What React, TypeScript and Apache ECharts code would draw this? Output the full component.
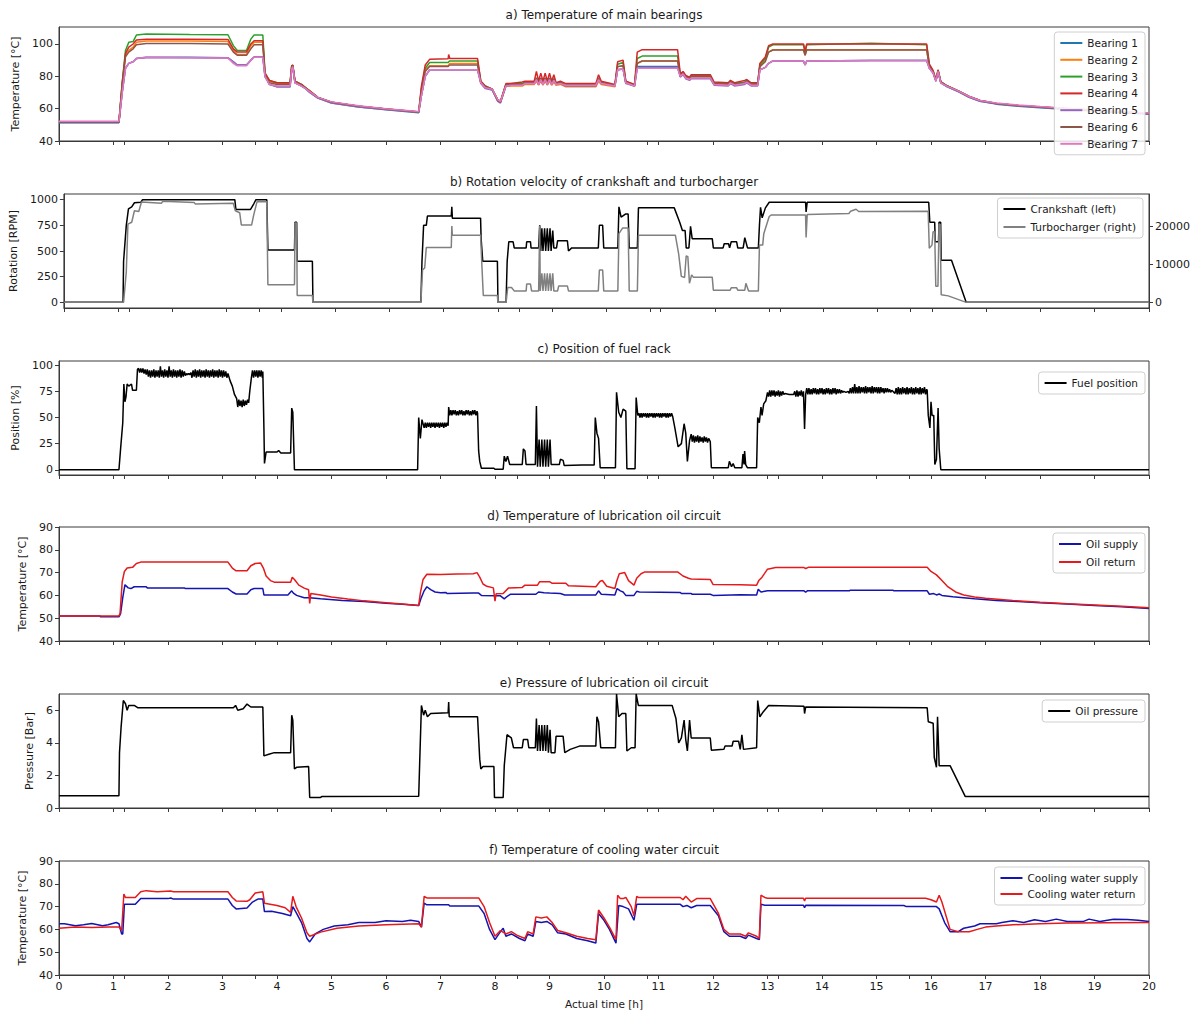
import React, { useEffect, useRef } from "react";
import * as echarts from "echarts";

const FONT = "'DejaVu Sans', 'Liberation Sans', sans-serif";

// ---------- axes ----------
const X_TICKS = [0, 1, 2, 3, 4, 5, 6, 7, 8, 9, 10, 11, 12, 13, 14, 15, 16, 17, 18, 19, 20];
const X_EXTRA_TICKS = [1.2, 3.6, 8.4, 10.8, 13.2, 15.6];
const Y_TICKS_A = [40, 60, 80, 100];
const Y_TICKS_B = [0, 250, 500, 750, 1000];
const Y_TICKS_B_RIGHT = [0, 10000, 20000];
const Y_TICKS_C = [0, 25, 50, 75, 100];
const Y_TICKS_D = [40, 50, 60, 70, 80, 90];
const Y_TICKS_E = [0, 2, 4, 6];
const Y_TICKS_F = [40, 50, 60, 70, 80, 90];

const TITLES = [
  "a) Temperature of main bearings",
  "b) Rotation velocity of crankshaft and turbocharger",
  "c) Position of fuel rack",
  "d) Temperature of lubrication oil circuit",
  "e) Pressure of lubrication oil circuit",
  "f) Temperature of cooling water circuit",
];

// ---------- a) bearings ----------
const BEARING_NAMES = ["Bearing 1", "Bearing 2", "Bearing 3", "Bearing 4", "Bearing 5", "Bearing 6", "Bearing 7"];
const BEARING_T = [
  0, 1.10, 1.16, 1.22, 1.28, 1.36, 1.42, 1.6, 2.4, 3.1,
  3.2, 3.27, 3.44, 3.52, 3.58, 3.74, 3.78, 3.86, 4.0, 4.24,
  4.27, 4.29, 4.33, 4.45, 4.52, 4.6, 4.75, 5.0, 5.5, 6.0,
  6.6, 6.65, 6.72, 6.8, 7.14, 7.15, 7.17, 7.68, 7.74, 7.82,
  7.95, 8.05, 8.1, 8.2, 8.3, 8.5, 8.55, 8.72, 8.76, 8.8,
  8.84, 8.88, 8.92, 8.96, 9.0, 9.04, 9.08, 9.12, 9.2, 9.3,
  9.85, 9.9, 9.95, 10.2, 10.25, 10.35, 10.4, 10.56, 10.61, 10.7,
  11.35, 11.4, 11.45, 11.5, 11.57, 11.6, 11.95, 12.02, 12.28, 12.32,
  12.4, 12.58, 12.62, 12.7, 12.82, 12.86, 12.96, 13.02, 13.1, 13.66,
  13.69, 13.72, 14.9, 15.92, 15.97, 16.04, 16.09, 16.13, 16.18, 16.3,
  16.5, 16.7, 16.9, 17.2, 17.6, 18.0, 18.5, 19.0, 19.5, 20.0,
];
const BEARING_1 = [
  51.3, 51.3, 70, 85, 88, 89, 91, 91.8, 91.8, 91.5,
  89, 87, 87, 90, 92, 92, 80, 75, 73.5, 73.5,
  84, 86, 76, 74, 72.5, 70, 66.5, 63.5, 61, 59.3,
  57.5, 68, 80, 84, 84, 84, 84, 84, 76, 73,
  71.5, 65, 64, 74, 74.5, 74.5, 75.5, 75.5, 78, 75,
  78, 75, 78, 75, 78, 75, 77.5, 75, 75.5, 74.5,
  74.5, 78, 75.5, 74, 84, 84.5, 76, 74, 86, 86,
  86, 80, 81.5, 79, 78, 79, 79, 75, 74.5, 76,
  74.5, 75.5, 76.5, 74.5, 74.5, 84, 85.5, 88, 89.5, 89.5,
  87, 89.5, 89.8, 89.8, 85, 82, 77, 83, 76, 73.5,
  70.5, 67, 64.5, 62.8, 61.5, 60.5, 59.5, 58.5, 57.5, 56.5,
];
const BEARING_2 = [
  51.6, 51.6, 75, 93, 96, 98, 101, 101.8, 101.8, 101.5,
  96, 93.5, 93.5, 99, 101, 101, 81, 77, 75.5, 75.5,
  86, 86.5, 77, 74.5, 73, 71, 67, 64, 61.5, 59.8,
  58, 72, 84, 86.5, 86.5, 87, 88, 88, 76, 73.5,
  72, 65.5, 64.5, 74, 74, 74, 75, 75, 77, 74.5,
  77, 74.5, 77, 74.5, 77, 74.5, 76.5, 74.5, 75, 73.5,
  73.5, 77, 75, 73.5, 86, 86.5, 76.5, 74, 88, 89.5,
  89.5, 80.5, 82, 79.5, 78.5, 79.5, 79.5, 75, 74.5, 76,
  74.5, 75.5, 76.5, 74.5, 74.5, 86, 90, 95, 96.5, 96.5,
  93, 96.5, 96.5, 96.5, 86, 82.5, 77.5, 83, 76.5, 74,
  71, 67.5, 65, 63.2, 62, 61, 60, 59, 58, 57,
];
const BEARING_3 = [
  51.6, 51.6, 76, 96, 101, 101.5, 105.5, 106.2, 105.8, 105.7,
  99, 96, 96, 103, 105.5, 105.5, 82, 77.5, 76, 76,
  86.5, 87, 77, 75, 73, 71, 67, 64, 61.5, 59.8,
  58, 72, 85, 88.5, 88.5, 89, 89.5, 89.5, 77, 74,
  72, 65.5, 64.5, 75, 75.5, 75.5, 76.5, 76.5, 79, 76,
  79, 76, 79, 76, 79, 76, 78.5, 75.5, 76, 75,
  75, 79, 76, 74.5, 87.5, 88.5, 77, 74.5, 91, 92.5,
  92.5, 81, 82.5, 80, 79, 80.5, 80.5, 76, 75.5, 77,
  75.5, 76.5, 77.5, 75.5, 75.5, 87, 91, 98, 99.5, 99.5,
  95, 99.5, 100.5, 99.5, 87, 83, 78, 84, 76.5, 74,
  71, 67.5, 65, 63.2, 62, 61, 60, 59, 58, 57,
];
const BEARING_4 = [
  51.8, 51.8, 76, 94, 98, 100, 102.5, 103, 103, 102.8,
  97, 95, 95, 100, 102, 102, 82, 77.5, 76, 76,
  86.5, 87, 77, 75, 73, 71, 67, 64, 61.5, 59.8,
  58, 74, 87, 90.5, 90.8, 93.5, 91, 91, 77, 74,
  72, 65.5, 64.5, 75.5, 75.5, 76.5, 77, 77, 83, 77,
  82, 77, 82, 77, 82, 77, 81, 76, 77, 75.5,
  75.5, 81, 77, 75, 89, 90, 77, 75, 95, 96.5,
  96.5, 81.5, 83, 80.5, 79.5, 81, 81, 76.5, 76, 77.5,
  76, 77.5, 78, 76, 76, 88, 92, 99, 100, 100,
  95.5, 100, 100, 100, 87.5, 83.5, 78, 84, 76.5, 74,
  71, 67.5, 65, 63.2, 62, 61, 60, 59, 58, 57,
];
const BEARING_5 = [
  51.5, 51.5, 70, 85, 88, 89, 91, 91.5, 91.5, 91.3,
  89, 87, 87, 90, 92, 92, 80, 75, 73.5, 73.5,
  84, 86, 76, 74, 72.5, 70, 66.5, 63.5, 61, 59.5,
  57.8, 68, 80, 84, 84, 84, 84, 84, 75.5, 72.5,
  71.5, 64.5, 63.5, 74, 74.5, 74.5, 75.5, 75.5, 78, 75,
  78, 75, 78, 75, 78, 75, 77.5, 75, 75.5, 74,
  74, 78, 75.5, 74, 84, 84.5, 75.5, 74, 85, 85.5,
  85.5, 79.5, 81, 78.5, 77.5, 78.5, 78.5, 74.5, 74, 75.5,
  74, 75, 76, 74, 74, 84, 85.5, 88, 89.5, 89.5,
  87, 89.5, 89.8, 89.8, 85, 82, 77, 83, 76, 73.5,
  70.5, 67, 64.5, 63, 61.8, 60.8, 59.8, 58.8, 57.8, 56.8,
];
const BEARING_6 = [
  51.8, 51.8, 74, 92, 95, 97, 99.5, 100.3, 100.3, 100,
  95, 93, 93, 97, 99.5, 99.5, 80, 76, 75, 75,
  85.5, 86.5, 76.5, 74.5, 73, 70.5, 67, 64, 61.5, 59.8,
  58, 70, 83, 86, 86, 86.5, 87, 87, 76, 73.5,
  72, 65, 64, 74.5, 75, 75, 76, 76, 79, 75.5,
  79, 75.5, 79, 75.5, 79, 75.5, 78.5, 75.5, 76, 74.5,
  74.5, 78.5, 76, 74.5, 86, 86.5, 76, 74.5, 88, 89.5,
  89.5, 80, 82, 79.5, 78.5, 80, 80, 75.5, 75, 76.5,
  75, 76, 77, 75, 75, 86, 89, 95, 96.3, 96.3,
  93, 96.3, 96.3, 96.3, 86, 82.5, 77.5, 83, 76.5, 74,
  71, 67.5, 65, 63.2, 62, 61, 60, 59, 58, 57,
];
const BEARING_7 = [
  52.2, 52.2, 70, 85, 88, 89, 91, 91.8, 91.5, 91.3,
  88, 86.5, 86.5, 90, 91.8, 91.8, 80, 75, 74, 74,
  84.5, 86, 76, 74, 72.5, 70.5, 67, 64.2, 61.8, 60,
  58.3, 68, 80, 84, 84, 84, 84, 84, 76, 73,
  72, 65.5, 64.5, 74, 74.5, 74.5, 75.5, 75.5, 78, 75,
  78, 75, 78, 75, 78, 75, 77.5, 75, 75.5, 74.5,
  74.5, 78, 75.5, 74, 84, 84.5, 76, 74, 85, 85,
  85, 80, 81.5, 79, 78, 79, 79, 75, 74.5, 76,
  74.5, 75.5, 76.5, 74.5, 74.5, 84, 85.5, 88, 89.5, 89.5,
  87, 89.5, 89.8, 89.8, 85, 82, 77, 83, 76, 73.8,
  71, 67.5, 65, 63.5, 62.3, 61.3, 60.3, 59.3, 58.3, 57.3,
];
const BEARING_VALUES = [BEARING_1, BEARING_2, BEARING_3, BEARING_4, BEARING_5, BEARING_6, BEARING_7];

// ---------- b) rotation ----------
const CRANKSHAFT = [
  [0, 0], [1.09, 0], [1.1, 400], [1.15, 750], [1.19, 910], [1.25, 930], [1.3, 970], [1.42, 975], [1.45, 1000],
  [3.15, 1000], [3.17, 905], [3.44, 905], [3.5, 960], [3.54, 1000], [3.74, 1000], [3.76, 510], [4.25, 510],
  [4.26, 780], [4.29, 780], [4.3, 400], [4.58, 400], [4.59, 0], [6.58, 0], [6.6, 400], [6.63, 750], [6.68, 750],
  [6.7, 840], [7.14, 840], [7.15, 930], [7.16, 820], [7.68, 820], [7.69, 620], [7.72, 400], [7.99, 400], [8.0, 0],
  [8.15, 0], [8.17, 400], [8.2, 590], [8.28, 590], [8.3, 530], [8.52, 530], [8.53, 590], [8.6, 590], [8.61, 530],
  [8.75, 530], [8.77, 750], [8.79, 500], [8.81, 720], [8.83, 500], [8.86, 720], [8.88, 500], [8.91, 720], [8.93, 500],
  [8.96, 720], [8.98, 500], [9.01, 700], [9.03, 530], [9.08, 530], [9.1, 600], [9.28, 600], [9.3, 500], [9.36, 530],
  [9.85, 530], [9.87, 750], [9.93, 750], [9.95, 530], [10.21, 530], [10.23, 930], [10.27, 830], [10.35, 860],
  [10.4, 860], [10.42, 530], [10.57, 530], [10.59, 920], [11.25, 920], [11.35, 780], [11.4, 700], [11.45, 700],
  [11.47, 530], [11.52, 530], [11.55, 740], [11.58, 620], [11.95, 620], [11.97, 530], [12.15, 530], [12.17, 570],
  [12.25, 570], [12.27, 530], [12.3, 590], [12.4, 590], [12.42, 530], [12.52, 530], [12.55, 630], [12.6, 530],
  [12.8, 530], [12.82, 750], [12.84, 926], [12.87, 823], [12.93, 920], [13.0, 975], [13.67, 975], [13.68, 880],
  [13.7, 975], [15.94, 975], [15.96, 780], [16.05, 780], [16.06, 590], [16.12, 590], [16.13, 780], [16.16, 780],
  [16.17, 410], [16.36, 410], [16.63, 0], [20, 0],
];
const TURBOCHARGER = [
  [0, 0], [1.1, 0], [1.15, 8000], [1.18, 20500], [1.25, 21000], [1.3, 24000], [1.38, 23800], [1.43, 26300],
  [1.8, 26000], [1.82, 26500], [2.4, 26200], [2.42, 25800], [3.12, 26000], [3.16, 24000], [3.24, 23500],
  [3.27, 20300], [3.46, 20300], [3.5, 23000], [3.56, 26400], [3.74, 26400], [3.76, 4600], [4.25, 4600],
  [4.26, 20800], [4.29, 20800], [4.3, 1800], [4.58, 1800], [4.59, 0], [6.58, 0], [6.61, 8500], [6.65, 9000],
  [6.68, 14400], [7.14, 14400], [7.15, 20000], [7.16, 17600], [7.68, 17600], [7.7, 11000], [7.73, 1800],
  [7.99, 1800], [8.0, 0], [8.15, 0], [8.18, 3900], [8.25, 3900], [8.3, 3000], [8.52, 3000], [8.53, 4800],
  [8.6, 4800], [8.62, 3000], [8.75, 3000], [8.77, 20000], [8.78, 3000], [8.81, 7600], [8.83, 3000], [8.86, 7600],
  [8.88, 3000], [8.91, 7600], [8.93, 3000], [8.96, 7600], [8.98, 3000], [9.01, 7600], [9.03, 3000], [9.1, 3000],
  [9.12, 4300], [9.28, 4300], [9.3, 3000], [9.85, 3000], [9.87, 8500], [9.93, 8500], [9.95, 3000], [10.21, 3000],
  [10.23, 18000], [10.3, 19500], [10.4, 19500], [10.42, 3000], [10.57, 3000], [10.59, 17600], [11.27, 17600],
  [11.33, 12800], [11.38, 6800], [11.44, 6500], [11.47, 12200], [11.5, 12000], [11.53, 5000], [11.57, 7200],
  [11.6, 6600], [11.95, 6600], [11.97, 3200], [12.28, 3200], [12.3, 3800], [12.4, 3800], [12.42, 3200],
  [12.55, 3200], [12.57, 5000], [12.62, 3000], [12.8, 3000], [12.82, 15000], [12.88, 15000], [12.9, 18000],
  [13.0, 22500], [13.04, 22900], [13.67, 22900], [13.68, 17000], [13.7, 23000], [14.47, 23300], [14.5, 23900],
  [14.6, 24400], [14.65, 23800], [15.93, 23900], [15.95, 14200], [16.0, 15000], [16.02, 18500], [16.05, 18500],
  [16.07, 4200], [16.11, 4200], [16.13, 20500], [16.15, 20500], [16.17, 2000], [16.3, 1700], [16.63, 0], [20, 0],
];

// ---------- c) fuel rack ----------
const FUEL_POSITION = [
  [0, 0], [1.1, 0], [1.13, 20], [1.17, 45], [1.19, 82], [1.21, 65], [1.23, 70], [1.25, 82], [1.28, 80], [1.33, 82],
  [1.35, 76], [1.42, 76], [1.44, 96],
  [1.46, 97], [1.48, 93], [1.5, 97], [1.52, 93], [1.54, 97], [1.56, 92], [1.58, 96], [1.6, 91], [1.62, 96],
  [1.64, 89], [1.66, 95], [1.68, 88], [1.7, 95], [1.72, 89], [1.74, 96], [1.76, 88], [1.78, 95], [1.8, 89],
  [1.82, 95], [1.84, 88], [1.86, 99], [1.88, 89], [1.9, 95], [1.92, 88], [1.94, 96], [1.96, 89], [1.98, 95],
  [2.0, 88], [2.02, 99], [2.04, 89], [2.06, 95], [2.08, 88], [2.1, 96], [2.12, 89], [2.14, 95], [2.16, 88],
  [2.18, 95], [2.2, 89], [2.22, 96], [2.24, 88], [2.26, 95], [2.28, 89], [2.3, 94], [2.32, 90], [2.34, 92],
  [2.36, 91], [2.38, 92], [2.4, 91], [2.42, 93], [2.44, 88], [2.46, 95], [2.48, 89], [2.5, 96], [2.52, 88],
  [2.54, 95], [2.56, 89], [2.58, 96], [2.6, 88], [2.62, 95], [2.64, 89], [2.66, 95], [2.68, 88], [2.7, 96],
  [2.72, 89], [2.74, 95], [2.76, 88], [2.78, 95], [2.8, 89], [2.82, 96], [2.84, 88], [2.86, 95], [2.88, 89],
  [2.9, 95], [2.92, 88], [2.94, 96], [2.96, 89], [2.98, 95], [3.0, 88], [3.02, 95], [3.04, 89], [3.06, 94],
  [3.08, 88], [3.1, 92],
  [3.14, 85], [3.18, 80], [3.22, 72], [3.26, 68], [3.28, 60], [3.3, 67], [3.32, 61], [3.34, 66], [3.36, 60],
  [3.38, 67], [3.4, 61], [3.42, 66], [3.44, 62], [3.46, 67], [3.48, 64], [3.5, 75],
  [3.53, 88], [3.55, 95], [3.57, 88], [3.59, 95], [3.61, 89], [3.63, 95], [3.65, 88], [3.67, 95], [3.69, 89],
  [3.71, 95], [3.73, 88], [3.74, 94],
  [3.76, 40], [3.77, 6], [3.8, 17], [4.0, 17], [4.03, 18.5], [4.07, 16], [4.25, 16],
  [4.27, 59], [4.29, 55], [4.32, 0], [6.58, 0], [6.6, 50], [6.63, 30], [6.66, 48],
  [6.7, 40], [6.72, 45], [6.74, 40], [6.76, 45], [6.78, 41], [6.8, 45], [6.82, 40], [6.84, 45], [6.86, 41],
  [6.88, 45], [6.9, 40], [6.92, 45], [6.94, 41], [6.96, 45], [6.98, 40], [7.0, 45], [7.02, 41], [7.04, 45],
  [7.06, 40], [7.08, 45], [7.1, 41], [7.12, 45], [7.14, 42],
  [7.15, 60], [7.17, 52], [7.19, 57], [7.21, 52], [7.23, 57], [7.25, 53], [7.27, 57], [7.29, 52], [7.31, 56],
  [7.33, 52], [7.35, 57], [7.37, 53], [7.39, 57], [7.41, 52], [7.43, 56], [7.45, 52], [7.47, 57], [7.49, 53],
  [7.51, 57], [7.53, 52], [7.55, 56], [7.57, 52], [7.59, 57], [7.61, 53], [7.63, 57], [7.65, 52], [7.67, 56],
  [7.68, 54],
  [7.7, 18], [7.72, 8], [7.75, 1.5], [7.98, 1.5], [8.0, 0.5], [8.15, 0.5], [8.17, 13], [8.2, 8], [8.23, 13],
  [8.27, 5], [8.5, 5], [8.52, 20], [8.55, 18], [8.57, 5], [8.74, 5], [8.76, 61], [8.78, 3], [8.81, 29], [8.83, 3],
  [8.86, 29], [8.88, 3], [8.91, 29], [8.93, 3], [8.96, 29], [8.98, 3], [9.01, 29], [9.03, 5], [9.18, 5], [9.2, 10],
  [9.25, 9], [9.27, 4], [9.6, 4.5], [9.82, 4.5], [9.84, 50], [9.87, 35], [9.9, 30], [9.93, 2], [10.21, 2],
  [10.23, 74], [10.27, 55], [10.31, 50], [10.35, 58], [10.4, 56], [10.42, 1], [10.57, 1], [10.59, 69],
  [10.62, 52], [10.64, 54], [10.66, 50], [10.68, 54], [10.7, 50], [10.72, 54], [10.74, 51], [10.76, 54],
  [10.78, 50], [10.8, 54], [10.82, 50], [10.84, 54], [10.86, 51], [10.88, 54], [10.9, 50], [10.92, 54],
  [10.94, 50], [10.96, 54], [10.98, 51], [11.0, 54], [11.02, 50], [11.04, 54], [11.06, 50], [11.08, 54],
  [11.1, 51], [11.12, 54], [11.14, 50], [11.16, 54], [11.18, 50], [11.2, 54], [11.22, 51], [11.24, 54],
  [11.26, 51],
  [11.3, 40], [11.36, 22], [11.42, 25], [11.47, 44], [11.5, 35], [11.53, 8], [11.57, 28], [11.6, 34],
  [11.62, 27], [11.64, 33], [11.66, 26], [11.68, 32], [11.7, 27], [11.72, 33], [11.74, 26], [11.76, 32],
  [11.78, 27], [11.8, 31], [11.82, 26], [11.84, 32], [11.86, 27], [11.88, 31], [11.9, 26], [11.92, 30],
  [11.95, 27], [11.97, 2], [12.28, 2], [12.3, 8], [12.34, 3], [12.37, 6], [12.4, 2], [12.53, 2],
  [12.55, 15], [12.57, 5], [12.58, 18], [12.6, 5], [12.63, 2], [12.8, 2], [12.82, 50], [12.85, 45], [12.88, 60],
  [12.9, 52], [12.93, 63], [12.97, 66],
  [13.0, 74], [13.02, 70], [13.04, 76], [13.06, 70], [13.08, 76], [13.1, 71], [13.12, 76], [13.14, 70],
  [13.16, 75], [13.18, 71], [13.2, 76], [13.22, 70], [13.24, 75], [13.26, 71], [13.28, 75], [13.3, 72],
  [13.32, 73], [13.4, 72], [13.48, 72], [13.5, 75], [13.52, 70], [13.54, 76], [13.56, 70], [13.58, 75],
  [13.6, 71], [13.62, 76], [13.64, 70], [13.66, 75], [13.68, 39], [13.7, 72],
  [13.72, 78], [13.74, 72], [13.76, 78], [13.78, 72], [13.8, 77], [13.82, 72], [13.84, 78], [13.86, 73],
  [13.88, 78], [13.9, 72], [13.92, 77], [13.94, 72], [13.96, 78], [13.98, 73], [14.0, 78], [14.02, 72],
  [14.04, 77], [14.06, 72], [14.08, 78], [14.1, 73], [14.12, 78], [14.14, 72], [14.16, 77], [14.18, 72],
  [14.2, 78], [14.22, 73], [14.24, 78], [14.26, 72], [14.28, 77], [14.3, 73], [14.32, 77], [14.34, 73],
  [14.36, 76], [14.38, 74], [14.4, 75], [14.44, 74], [14.48, 75], [14.5, 73], [14.52, 78], [14.54, 73],
  [14.56, 79], [14.58, 73], [14.6, 82], [14.62, 73], [14.64, 79], [14.66, 73], [14.68, 80], [14.7, 73],
  [14.72, 79], [14.74, 74], [14.76, 79], [14.78, 73], [14.8, 80], [14.82, 73], [14.84, 79], [14.86, 74],
  [14.88, 79], [14.9, 73], [14.92, 80], [14.94, 73], [14.96, 79], [14.98, 74], [15.0, 79], [15.02, 73],
  [15.04, 79], [15.06, 73], [15.08, 79], [15.1, 74], [15.12, 78], [15.14, 73], [15.16, 78], [15.18, 74],
  [15.2, 78], [15.22, 74], [15.24, 77], [15.26, 74], [15.28, 76], [15.3, 75], [15.32, 74], [15.34, 73],
  [15.36, 78], [15.38, 72], [15.4, 79], [15.42, 72], [15.44, 78], [15.46, 72], [15.48, 79], [15.5, 73],
  [15.52, 78], [15.54, 72], [15.56, 79], [15.58, 72], [15.6, 78], [15.62, 73], [15.64, 79], [15.66, 72],
  [15.68, 78], [15.7, 72], [15.72, 79], [15.74, 73], [15.76, 78], [15.78, 72], [15.8, 79], [15.82, 72],
  [15.84, 78], [15.86, 73], [15.88, 79], [15.9, 72], [15.92, 77], [15.93, 76],
  [15.95, 52], [15.98, 40], [16.0, 65], [16.02, 52], [16.05, 52], [16.07, 5], [16.1, 10], [16.13, 59],
  [16.15, 20], [16.18, 0], [20, 0],
];

// ---------- d) lubrication oil temperature ----------
const OIL_SUPPLY = [
  [0, 51], [0.75, 51], [0.76, 50.6], [1.1, 50.6], [1.13, 52], [1.17, 59], [1.21, 64.7], [1.27, 63.3], [1.32, 63],
  [1.38, 63.8], [1.6, 63.8], [1.62, 63.3], [2.3, 63.3], [2.32, 63], [3.1, 63], [3.18, 61.5], [3.25, 60.6],
  [3.45, 60.6], [3.52, 62.5], [3.58, 63], [3.74, 63], [3.76, 60.2], [4.2, 60.2], [4.27, 62], [4.3, 61],
  [4.36, 60], [4.5, 59], [4.6, 59], [4.8, 58.5], [5.2, 57.8], [5.6, 57.3], [6.0, 56.6], [6.3, 56.1], [6.6, 55.6],
  [6.64, 58.5], [6.7, 62], [6.75, 63.8], [6.82, 62.5], [6.9, 61.5], [7.0, 61.2], [7.1, 61.3], [7.12, 60.8],
  [7.6, 61], [7.7, 61], [7.75, 60], [8.0, 59.8], [8.1, 59.8], [8.17, 58.5], [8.22, 59.5], [8.28, 60.5],
  [8.75, 60.5], [8.8, 61.5], [8.9, 61.2], [9.0, 61], [9.2, 60.8], [9.28, 60.2], [9.85, 60.2], [9.9, 62],
  [9.95, 60.5], [10.2, 60.2], [10.24, 63], [10.3, 62], [10.35, 61.5], [10.4, 60], [10.55, 60], [10.6, 61.8],
  [10.65, 61.5], [11.4, 61.3], [11.42, 60.8], [11.6, 60.8], [11.62, 60.5], [11.95, 60.5], [12.0, 60],
  [12.5, 60.3], [12.8, 60.2], [12.83, 62.7], [12.88, 61.5], [12.95, 61.8], [13.0, 62], [13.67, 62],
  [13.7, 61.4], [13.73, 62], [14.5, 62], [14.52, 62.3], [15.3, 62.3], [15.32, 62], [15.93, 62], [15.97, 60.5],
  [16.05, 60.8], [16.1, 60.2], [16.15, 60.6], [16.2, 60], [16.4, 59.4], [16.8, 58.5], [17.2, 57.8],
  [17.6, 57.3], [18.0, 56.8], [18.5, 56.2], [19.0, 55.6], [19.5, 55], [20, 54.2],
];
const OIL_RETURN = [
  [0, 51], [1.1, 51], [1.12, 52], [1.16, 66], [1.2, 70.5], [1.25, 72], [1.35, 72.3], [1.42, 74], [1.5, 74.6],
  [3.1, 74.6], [3.18, 72], [3.25, 70.8], [3.45, 70.8], [3.52, 73], [3.6, 74], [3.7, 74.2], [3.75, 72],
  [3.8, 68.5], [3.88, 66.5], [3.95, 65.8], [4.25, 65.8], [4.28, 68], [4.32, 67], [4.4, 64.5], [4.5, 63.2],
  [4.58, 62.5], [4.6, 56.5], [4.62, 60.8], [4.8, 60.2], [5.0, 59.3], [5.3, 58.4], [5.6, 57.6], [6.0, 56.8],
  [6.3, 56.2], [6.6, 55.6], [6.63, 61], [6.68, 67], [6.75, 69.3], [7.0, 69.2], [7.3, 69.4], [7.6, 69.5],
  [7.67, 70], [7.72, 68], [7.78, 65], [7.85, 64], [7.97, 63.3], [8.0, 57.5], [8.02, 60.7], [8.15, 60.8],
  [8.25, 63.3], [8.5, 63.5], [8.55, 64.5], [8.78, 64.5], [8.82, 66], [9.0, 66], [9.05, 65.3], [9.3, 65.3],
  [9.35, 64.2], [9.6, 64], [9.85, 63.8], [9.93, 66.2], [9.97, 66.5], [10.05, 64], [10.2, 63], [10.23, 66],
  [10.28, 69.5], [10.38, 70], [10.45, 66.5], [10.55, 64.5], [10.6, 67.5], [10.68, 69.5], [10.75, 70.3],
  [11.35, 70.3], [11.45, 68.5], [11.55, 67.5], [11.6, 67.2], [11.95, 67], [12.0, 64.8], [12.5, 64.7],
  [12.8, 64.5], [12.84, 66.5], [12.9, 68], [13.0, 71.5], [13.15, 72.2], [13.67, 72.2], [13.7, 71.8],
  [13.75, 72.3], [15.93, 72.3], [16.0, 70.5], [16.1, 69], [16.2, 66.5], [16.3, 64], [16.45, 61.5],
  [16.6, 60.2], [16.8, 59.3], [17.0, 58.7], [17.5, 57.8], [18.0, 57], [18.5, 56.3], [19.0, 55.8],
  [19.5, 55.2], [20, 54.6],
];

// ---------- e) lubrication oil pressure ----------
const OIL_PRESSURE = [
  [0, 0.75], [1.1, 0.75], [1.11, 3.4], [1.14, 5], [1.18, 6.6], [1.22, 6.4], [1.25, 6.0], [1.28, 6.3],
  [1.38, 6.3], [1.45, 6.15], [3.2, 6.15], [3.24, 6.3], [3.28, 6.0], [3.38, 6.1], [3.45, 6.38], [3.52, 6.2],
  [3.74, 6.2], [3.76, 3.2], [3.85, 3.3], [3.95, 3.4], [4.25, 3.4], [4.27, 5.7], [4.29, 5.4], [4.32, 2.4],
  [4.36, 2.5], [4.58, 2.55], [4.6, 0.65], [4.8, 0.65], [4.82, 0.7], [6.6, 0.72], [6.62, 3], [6.65, 6.3],
  [6.69, 5.7], [6.72, 6.0], [6.76, 5.6], [6.82, 5.8], [7.14, 5.85], [7.15, 6.5], [7.16, 5.6], [7.68, 5.6],
  [7.7, 4.3], [7.72, 3.0], [7.74, 2.4], [7.78, 2.55], [7.98, 2.55], [7.99, 0.65], [8.15, 0.65], [8.17, 2.6],
  [8.22, 4.5], [8.3, 4.3], [8.34, 3.7], [8.5, 3.7], [8.52, 4.2], [8.6, 4.2], [8.62, 3.7], [8.74, 3.7],
  [8.76, 5.5], [8.78, 3.5], [8.81, 5.1], [8.83, 3.5], [8.86, 5.1], [8.88, 3.5], [8.91, 5.1], [8.93, 3.5],
  [8.96, 5.1], [8.98, 3.4], [9.01, 4.8], [9.03, 3.4], [9.1, 3.4], [9.12, 4.4], [9.25, 4.4], [9.28, 3.4],
  [9.38, 3.6], [9.55, 3.8], [9.85, 3.8], [9.87, 5.6], [9.9, 5.3], [9.94, 3.7], [10.21, 3.7], [10.23, 7.0],
  [10.27, 5.6], [10.33, 5.8], [10.4, 5.8], [10.42, 3.5], [10.5, 3.7], [10.57, 3.7], [10.59, 7.0], [10.63, 6.3],
  [11.25, 6.3], [11.32, 5.5], [11.37, 4.0], [11.42, 4.3], [11.47, 5.4], [11.5, 4.2], [11.53, 3.5], [11.57, 5.4],
  [11.6, 4.3], [11.95, 4.3], [11.97, 3.55], [12.2, 3.6], [12.22, 3.8], [12.35, 3.8], [12.37, 4.1], [12.47, 4.1],
  [12.5, 3.6], [12.53, 4.5], [12.56, 3.6], [12.8, 3.7], [12.82, 6.6], [12.86, 5.6], [12.92, 5.9], [13.02, 6.3],
  [13.67, 6.25], [13.68, 5.8], [13.7, 6.2], [15.93, 6.15], [15.95, 5.3], [16.04, 5.2], [16.06, 3.1], [16.1, 2.5],
  [16.12, 5.6], [16.15, 2.6], [16.35, 2.6], [16.63, 0.7], [20, 0.7],
];

// ---------- f) cooling water temperature ----------
const CW_SUPPLY = [
  [0, 62.5], [0.1, 62.5], [0.3, 61.6], [0.45, 62], [0.6, 62.6], [0.8, 61.6], [0.9, 62], [1.05, 63], [1.1, 62.5],
  [1.15, 58], [1.17, 58], [1.2, 71], [1.4, 71], [1.5, 73.6], [2.0, 73.5], [2.05, 73.8], [2.1, 73.3], [3.1, 73.3],
  [3.18, 70.5], [3.25, 69], [3.45, 69.4], [3.55, 72], [3.65, 73.3], [3.74, 73.3], [3.77, 67.8], [3.9, 68],
  [4.1, 67], [4.25, 66], [4.29, 70], [4.35, 67.5], [4.45, 63], [4.55, 56], [4.6, 54.5], [4.7, 58], [4.85, 60],
  [5.05, 61.5], [5.3, 62], [5.5, 63], [5.8, 63], [6.0, 63.8], [6.3, 63.5], [6.45, 64], [6.6, 63.5], [6.65, 61],
  [6.7, 71.5], [6.75, 70.8], [7.15, 70.8], [7.17, 70.3], [7.7, 70.3], [7.8, 67], [7.9, 60], [8.0, 55.5],
  [8.1, 59], [8.15, 60.5], [8.2, 57], [8.3, 58], [8.45, 56], [8.55, 55], [8.6, 58], [8.7, 57], [8.75, 63.5],
  [8.85, 63], [8.95, 63.5], [9.05, 62], [9.15, 58.5], [9.3, 58], [9.5, 56], [9.7, 55], [9.85, 54], [9.9, 67],
  [10.0, 64], [10.1, 60], [10.22, 54], [10.27, 70.5], [10.35, 70], [10.45, 69], [10.55, 64], [10.6, 71],
  [10.65, 71], [11.4, 71], [11.45, 70], [11.52, 70.5], [11.6, 69.5], [11.7, 70.5], [11.95, 70.5], [12.1, 66],
  [12.2, 59], [12.3, 57], [12.5, 57], [12.6, 56], [12.65, 57.5], [12.8, 56], [12.85, 55.5], [12.88, 71],
  [12.95, 70.6], [13.66, 70.6], [13.68, 69.5], [13.7, 70.6], [15.5, 70.5], [15.55, 70], [16.1, 70],
  [16.15, 69], [16.25, 63], [16.35, 59], [16.5, 59], [16.6, 60.5], [16.8, 61.5], [16.9, 62.5], [17.2, 62.5],
  [17.3, 63], [17.5, 63.8], [17.7, 63], [17.9, 64.2], [18.1, 63.5], [18.3, 64.5], [18.5, 63.5], [18.8, 63.5],
  [18.9, 64.5], [19.1, 63.5], [19.35, 64.5], [19.6, 64.3], [19.8, 64], [20, 63.5],
];
const CW_RETURN = [
  [0, 60.5], [0.3, 61], [0.6, 60.8], [0.9, 61], [1.1, 61], [1.15, 59.5], [1.19, 75.5], [1.22, 74], [1.4, 74],
  [1.5, 76.5], [1.6, 77], [1.8, 76.5], [2.05, 76.8], [2.1, 76.5], [3.1, 76.5], [3.18, 74], [3.25, 72.5],
  [3.45, 72.3], [3.5, 73], [3.6, 76], [3.74, 76.5], [3.77, 71.5], [4.0, 70.5], [4.15, 69.5], [4.25, 67.5],
  [4.29, 74.5], [4.35, 70], [4.45, 65], [4.55, 58.5], [4.6, 57], [4.8, 58.8], [5.1, 60.5], [5.5, 61.5],
  [6.0, 62], [6.6, 62.5], [6.65, 61], [6.7, 74.5], [6.75, 73.8], [7.7, 73.8], [7.8, 70], [7.9, 63], [8.0, 57],
  [8.1, 59.5], [8.2, 58], [8.3, 59], [8.4, 57.5], [8.55, 56], [8.6, 59], [8.7, 58], [8.75, 65.5], [8.85, 65],
  [8.95, 65.5], [9.05, 63], [9.15, 59.5], [9.3, 58.5], [9.5, 57], [9.7, 56], [9.85, 55.5], [9.9, 68.5],
  [10.0, 65], [10.1, 61], [10.22, 55.5], [10.25, 75], [10.3, 73.5], [10.35, 73.5], [10.4, 74], [10.5, 70],
  [10.55, 66], [10.6, 74.5], [10.63, 74], [11.4, 74], [11.45, 73], [11.5, 74.5], [11.6, 72], [11.7, 73.5],
  [11.95, 73.5], [12.1, 67], [12.2, 60], [12.3, 58], [12.5, 58], [12.6, 57], [12.65, 58.5], [12.8, 57],
  [12.85, 56], [12.88, 75], [12.95, 74], [13.0, 73.7], [13.66, 73.7], [13.68, 72.5], [13.7, 73.7], [15.9, 73.7],
  [16.0, 73], [16.1, 72], [16.15, 75], [16.2, 72], [16.35, 60], [16.5, 59], [16.7, 59], [16.85, 60], [17.0, 61],
  [17.2, 61.5], [17.5, 62], [18.0, 62.5], [18.5, 62.8], [20, 63],
];

// ---------- styling ----------
const TAB10 = ["#1f77b4", "#ff7f0e", "#2ca02c", "#d62728", "#9467bd", "#8c564b", "#e377c2"];
const BLUE = "#1414b0";
const RED = "#e41a1c";
const AXIS_COLOR = "#3a3a3a";
const TEXT_COLOR = "#1a1a1a";

const GRID_LEFT = 59;
const GRID_WIDTH = 1090;
const PANELS = [
  { top: 27, height: 114, titleY: 15 },
  { top: 194, height: 114, titleY: 182 },
  { top: 361, height: 114, titleY: 349 },
  { top: 527, height: 114, titleY: 516 },
  { top: 694, height: 114, titleY: 683 },
  { top: 861, height: 115, titleY: 850 },
];

const plainNumber = (v) => String(v);

function buildOption() {
  const grids = PANELS.map((p) => ({
    left: GRID_LEFT,
    top: p.top,
    width: GRID_WIDTH,
    height: p.height,
    show: true,
    borderColor: AXIS_COLOR,
    borderWidth: 1,
    backgroundColor: "transparent",
    containLabel: false,
  }));

  const xAxes = PANELS.map((_, i) => {
    const last = i === PANELS.length - 1;
    return {
      type: "value",
      gridIndex: i,
      min: 0,
      max: 20,
      position: "bottom",
      splitLine: { show: false },
      axisLine: { show: true, onZero: false, lineStyle: { color: AXIS_COLOR, width: 1 } },
      axisTick: {
        show: true,
        length: 4,
        lineStyle: { color: AXIS_COLOR },
        customValues: X_TICKS.concat(X_EXTRA_TICKS),
      },
      axisLabel: {
        show: last,
        customValues: X_TICKS,
        formatter: plainNumber,
        fontSize: 11,
        fontFamily: FONT,
        color: TEXT_COLOR,
        margin: 6,
      },
      name: last ? "Actual time [h]" : "",
      nameLocation: "middle",
      nameGap: 23,
      nameTextStyle: { fontSize: 10.5, fontFamily: FONT, color: TEXT_COLOR },
    };
  });

  const yAxisBase = (gridIndex, min, max, ticks, name, nameGap, position = "left") => ({
    type: "value",
    gridIndex,
    min,
    max,
    position,
    splitLine: { show: false },
    axisLine: { show: true, onZero: false, lineStyle: { color: AXIS_COLOR, width: 1 } },
    axisTick: { show: true, length: 4, lineStyle: { color: AXIS_COLOR }, customValues: ticks },
    axisLabel: {
      customValues: ticks,
      formatter: plainNumber,
      fontSize: 11,
      fontFamily: FONT,
      color: TEXT_COLOR,
      margin: 6,
    },
    name,
    nameLocation: "middle",
    nameRotate: 90,
    nameGap,
    nameTextStyle: { fontSize: 11, fontFamily: FONT, color: TEXT_COLOR },
  });

  const yAxes = [
    yAxisBase(0, 40, 110.5, Y_TICKS_A, "Temperature [°C]", 28),
    yAxisBase(1, -55, 1055, Y_TICKS_B, "Rotation [RPM]", 34),
    yAxisBase(1, -1480, 28400, Y_TICKS_B_RIGHT, "", 40, "right"),
    yAxisBase(2, -5, 104, Y_TICKS_C, "Position [%]", 28),
    yAxisBase(3, 40, 90, Y_TICKS_D, "Temperature [°C]", 21),
    yAxisBase(4, 0, 7, Y_TICKS_E, "Pressure [Bar]", 15),
    yAxisBase(5, 40, 90, Y_TICKS_F, "Temperature [°C]", 21),
  ];

  const line = (name, data, color, xAxisIndex, yAxisIndex, width = 1.5) => ({
    type: "line",
    name,
    data,
    xAxisIndex,
    yAxisIndex,
    showSymbol: false,
    symbol: "none",
    lineStyle: { color, width },
    itemStyle: { color },
    emphasis: { disabled: true },
    silent: true,
    clip: true,
  });

  const series = [];
  BEARING_NAMES.forEach((name, k) => {
    const vals = BEARING_VALUES[k];
    const data = BEARING_T.map((t, j) => [t, vals[j]]);
    series.push(line(name, data, TAB10[k], 0, 0));
  });
  series.push(line("Crankshaft (left)", CRANKSHAFT, "#000000", 1, 1));
  series.push(line("Turbocharger (right)", TURBOCHARGER, "#808080", 1, 2));
  series.push(line("Fuel position", FUEL_POSITION, "#000000", 2, 3));
  series.push(line("Oil supply", OIL_SUPPLY, BLUE, 3, 4));
  series.push(line("Oil return", OIL_RETURN, RED, 3, 4));
  series.push(line("Oil pressure", OIL_PRESSURE, "#000000", 4, 5));
  series.push(line("Cooling water supply", CW_SUPPLY, BLUE, 5, 6));
  series.push(line("Cooling water return", CW_RETURN, RED, 5, 6));

  const legend = (names, right, top, itemGap) => ({
    data: names,
    orient: "vertical",
    right,
    top,
    icon: "rect",
    itemWidth: 22,
    itemHeight: 2,
    itemGap,
    selectedMode: false,
    backgroundColor: "rgba(255,255,255,0.85)",
    borderColor: "#cfcfcf",
    borderWidth: 1,
    borderRadius: 3,
    padding: [5, 7, 5, 6],
    textStyle: { fontSize: 10.5, fontFamily: FONT, color: TEXT_COLOR, lineHeight: 12 },
  });

  const legends = [
    legend(BEARING_NAMES, 54, 32, 4.8),
    legend(["Crankshaft (left)", "Turbocharger (right)"], 56, 198, 6),
    legend(["Fuel position"], 54, 372, 5),
    legend(["Oil supply", "Oil return"], 54, 533, 6),
    legend(["Oil pressure"], 54, 700, 5),
    legend(["Cooling water supply", "Cooling water return"], 54, 867, 4),
  ];

  const titles = TITLES.map((text, i) => ({
    type: "text",
    x: GRID_LEFT + GRID_WIDTH / 2,
    y: PANELS[i].titleY,
    silent: true,
    style: {
      text,
      fill: TEXT_COLOR,
      font: `12px ${FONT}`,
      textAlign: "center",
      textVerticalAlign: "middle",
    },
  }));

  return {
    animation: false,
    backgroundColor: "#ffffff",
    textStyle: { fontFamily: FONT },
    grid: grids,
    xAxis: xAxes,
    yAxis: yAxes,
    legend: legends,
    graphic: titles,
    series,
  };
}

export default function App() {
  const ref = useRef(null);
  useEffect(() => {
    if (!ref.current) return;
    const chart = echarts.init(ref.current, null, { renderer: "svg" });
    chart.setOption(buildOption());
    return () => chart.dispose();
  }, []);
  return (
    <div
      ref={ref}
      style={{ position: "absolute", left: 0, top: 0, width: 1199, height: 1010, background: "#fff" }}
    />
  );
}
